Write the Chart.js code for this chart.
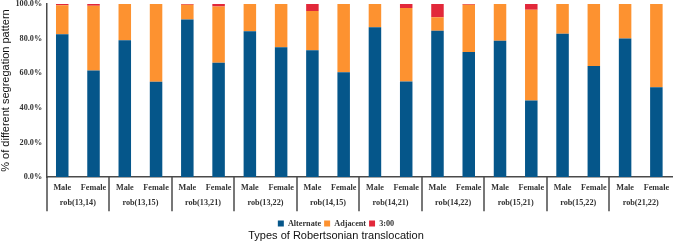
<!DOCTYPE html>
<html>
<head>
<meta charset="utf-8">
<script src="https://cdn.jsdelivr.net/npm/chart.js@4/dist/chart.umd.min.js"></script>
<style>
  html, body { margin: 0; padding: 0; background: #fff; }
  #wrap { width: 676px; height: 243px; }
</style>
</head>
<body>
<div id="wrap"><canvas id="chart"></canvas></div>
<script>
const groups = ['rob(13,14)', 'rob(13,15)', 'rob(13,21)', 'rob(13,22)', 'rob(14,15)',
  'rob(14,21)', 'rob(14,22)', 'rob(15,21)', 'rob(15,22)', 'rob(21,22)'];
const sexes = ['Male', 'Female'];

// % per bar, Male then Female for each translocation
const alternate = [82.5, 61.6, 79.0, 55.0, 91.0, 66.0, 84.3, 75.0, 73.3, 60.6,
  86.6, 55.2, 84.5, 72.3, 78.7, 44.2, 82.8, 64.1, 80.0, 51.9];
const adjacent = [16.8, 37.4, 21.0, 45.0, 8.5, 32.5, 15.7, 25.0, 22.7, 39.4,
  13.4, 42.5, 7.9, 27.2, 21.3, 52.5, 17.2, 35.9, 20.0, 48.1];
const threeZero = [0.7, 1.0, 0, 0, 0.5, 1.5, 0, 0, 4.0, 0,
  0, 2.3, 7.6, 0.5, 0, 3.3, 0, 0, 0, 0];

const barLabels = groups.flatMap(() => sexes);
const serif = 'Liberation Serif, Times New Roman, serif';
const sans = 'Liberation Sans, Arial, sans-serif';
const axisColor = '#4a4a4a';
const tickFont = { family: serif, size: 8.2, weight: 'bold' };

// vertical separators between translocation groups, below the x axis
const groupLines = {
  id: 'groupLines',
  afterDraw(chart) {
    const x = chart.scales.x, x2 = chart.scales.x2, ctx = chart.ctx;
    const half = (x.getPixelForValue(1) - x.getPixelForValue(0)) / 2;
    ctx.save();
    ctx.strokeStyle = axisColor;
    ctx.lineWidth = 1.5;
    for (let k = 0; k < groups.length; k++) {
      const px = Math.round(x.getPixelForValue(2 * k) - half);
      ctx.beginPath();
      ctx.moveTo(px, x.top);
      ctx.lineTo(px, x2.bottom - 5);
      ctx.stroke();
    }
    ctx.restore();
  }
};

new Chart(document.getElementById('chart'), {
  type: 'bar',
  data: {
    labels: barLabels,
    datasets: [
      { label: 'Alternate', data: alternate, backgroundColor: '#05568a' },
      { label: 'Adjacent', data: adjacent, backgroundColor: '#fd9230' },
      { label: '3:00', data: threeZero, backgroundColor: '#e2283a' }
    ]
  },
  options: {
    responsive: true,
    maintainAspectRatio: false,
    animation: false,
    layout: { padding: { top: 0, right: 4, left: 0, bottom: 0 } },
    datasets: { bar: { categoryPercentage: 1, barPercentage: 0.4 } },
    plugins: {
      legend: {
        position: 'bottom',
        labels: { boxWidth: 6, boxHeight: 6, padding: 3, color: '#333', font: tickFont }
      },
      title: {
        display: true, position: 'bottom', text: 'Types of Robertsonian translocation',
        color: '#111', font: { family: sans, size: 11, weight: 'normal' },
        padding: { top: -7.7, bottom: 0 }
      },
      tooltip: { enabled: false }
    },
    scales: {
      x: {
        stacked: true,
        offset: true,
        weight: 1,
        grid: { display: false, drawTicks: false },
        border: { display: true, color: axisColor, width: 1.5 },
        ticks: { padding: 5.6, color: '#333', maxRotation: 0, minRotation: 0, autoSkip: false, font: tickFont }
      },
      x2: {
        type: 'category',
        position: 'bottom',
        labels: groups,
        offset: true,
        weight: 2,
        grid: { display: false, drawTicks: false },
        border: { display: false },
        ticks: { padding: 0, color: '#333', maxRotation: 0, minRotation: 0, autoSkip: false, font: tickFont },
        // blank title only keeps a gap above the legend
        title: { display: true, text: ' ', font: { size: 1 }, padding: { top: 7.2, bottom: 0 } }
      },
      y: {
        stacked: true,
        min: 0, max: 100,
        grid: { display: false, drawTicks: false },
        border: { display: true, color: axisColor, width: 1.5 },
        afterFit: s => { s.paddingTop = 4; },
        ticks: {
          stepSize: 20, padding: 4.5, color: '#333', font: tickFont,
          callback: v => v.toFixed(1) + '%'
        },
        title: {
          display: true, text: '% of different segregation pattern', color: '#111',
          font: { family: sans, size: 11, weight: 'normal', lineHeight: 1 },
          padding: 0
        }
      }
    }
  },
  plugins: [groupLines]
});
</script>
</body>
</html>
